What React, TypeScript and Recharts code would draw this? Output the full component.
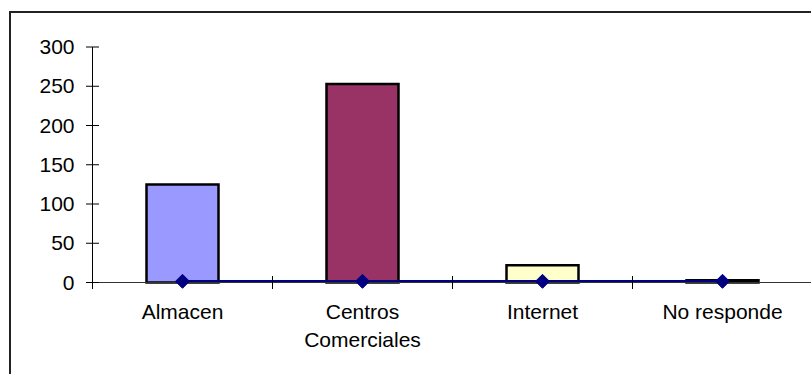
import React from 'react';
import { ComposedChart, Bar, Line, XAxis, YAxis, Cell } from 'recharts';

// Responses per purchase channel
const categories = ['Almacen', 'Centros Comerciales', 'Internet', 'No responde'];
const responses = [125, 253, 22, 3];
const shareLine = [1.5, 1.5, 1.5, 1.5];
const barColors = ['#9999FF', '#993366', '#FFFFCC', '#CCFFFF'];
const tickLabelLines = [['Almacen'], ['Centros', 'Comerciales'], ['Internet'], ['No responde']];
const yTicks = [0, 50, 100, 150, 200, 250, 300];

const data = categories.map((name, i) => ({
  name,
  responses: responses[i],
  share: shareLine[i],
}));

const CHART_W = 830;
const CHART_H = 374;
const MARGIN = { top: 47, right: 17.5, bottom: 31.5, left: 0 };
const Y_AXIS_W = 92.5;
const X_AXIS_H = 60;
const PLOT_W = CHART_W - MARGIN.left - MARGIN.right - Y_AXIS_W;
const BAND = PLOT_W / categories.length;
const FONT = '"Liberation Sans", Arial, Helvetica, sans-serif';
const FONT_SIZE = 21;
const NAVY = '#000080';

const CategoryTick = (props: any) => {
  const { x, y, index } = props;
  const lines = tickLabelLines[index] || [String(props.payload?.value ?? '')];
  const left = x - BAND / 2;
  const right = x + BAND / 2;
  return (
    <g>
      <line x1={left} x2={left} y1={y - 6.5} y2={y + 6.5} stroke="#000" strokeWidth={1} />
      {index === categories.length - 1 && (
        <line x1={right} x2={right} y1={y - 6.5} y2={y + 6.5} stroke="#000" strokeWidth={1} />
      )}
      <text x={x} y={y + 36} textAnchor="middle" fontSize={FONT_SIZE} fontFamily={FONT} fill="#000">
        {lines.map((l, i) => (
          <tspan key={i} x={x} dy={i === 0 ? 0 : 28}>
            {l}
          </tspan>
        ))}
      </text>
    </g>
  );
};

const ValueTick = (props: any) => {
  const { x, y, payload } = props;
  return (
    <g>
      <line x1={x - 6.5} x2={x + 6.5} y1={y} y2={y} stroke="#000" strokeWidth={1} />
      <text x={x - 18} y={y + 7} textAnchor="end" fontSize={FONT_SIZE} fontFamily={FONT} fill="#000">
        {payload.value}
      </text>
    </g>
  );
};

const renderDiamond = (p: any) => {
  const { cx, cy, index } = p;
  const r = 7;
  return (
    <polygon
      key={`diamond-${index}`}
      points={`${cx},${cy - r} ${cx + r},${cy} ${cx},${cy + r} ${cx - r},${cy}`}
      fill={NAVY}
      stroke={NAVY}
      strokeWidth={1}
    />
  );
};

export default function App() {
  return (
    <div
      style={{
        position: 'absolute',
        left: 0,
        top: 0,
        width: 811,
        height: 374,
        overflow: 'hidden',
        background: '#fff',
      }}
    >
      <div
        style={{
          position: 'absolute',
          left: 9,
          top: 11,
          width: 840,
          height: 420,
          border: '2px solid #222',
          boxSizing: 'border-box',
        }}
      />
      <div style={{ position: 'absolute', left: 0, top: 0 }}>
        <ComposedChart width={CHART_W} height={CHART_H} data={data} margin={MARGIN}>
          <XAxis
            dataKey="name"
            height={X_AXIS_H}
            interval={0}
            axisLine={{ stroke: '#333', strokeWidth: 1 }}
            tickLine={false}
            tickSize={0}
            tickMargin={0}
            tick={<CategoryTick />}
          />
          <YAxis
            width={Y_AXIS_W}
            domain={[0, 300]}
            ticks={yTicks}
            interval={0}
            axisLine={{ stroke: '#000', strokeWidth: 1 }}
            tickLine={false}
            tickSize={0}
            tickMargin={0}
            tick={<ValueTick />}
          />
          <Bar dataKey="responses" barSize={72} stroke="#000" strokeWidth={2.5} isAnimationActive={false}>
            {data.map((d, i) => (
              <Cell key={d.name} fill={barColors[i]} stroke="#000" strokeWidth={2.5} />
            ))}
          </Bar>
          <Line
            dataKey="share"
            stroke={NAVY}
            strokeWidth={2.5}
            dot={renderDiamond}
            activeDot={false}
            isAnimationActive={false}
          />
        </ComposedChart>
      </div>
    </div>
  );
}
